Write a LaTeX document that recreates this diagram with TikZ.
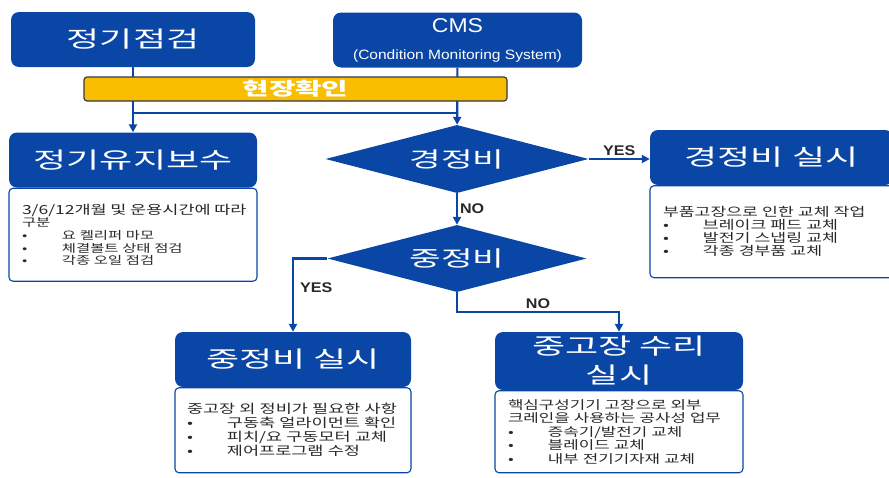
\documentclass[tikz,border=0pt]{standalone}
\usepackage{fontspec}
\setmainfont{Liberation Sans}
\newfontfamily\kr[FakeStretch=1.4]{Noto Sans CJK KR}
\newfontfamily\krh[FakeStretch=1.6]{Noto Sans CJK KR}
\newfontfamily\lat[FakeStretch=1.15]{Liberation Sans}
\usepackage{tikz}
\usetikzlibrary{shapes.geometric, arrows.meta, positioning}
\definecolor{kblue}{RGB}{10,70,165}
\definecolor{kyellow}{RGB}{250,190,0}
\definecolor{kframe}{RGB}{55,55,75}
\definecolor{ktext}{RGB}{40,40,40}
\newcommand{\bitem}[1]{\makebox[40pt][l]{\textbullet}#1}

\begin{document}
\begin{tikzpicture}[x=1pt, y=-1pt,
  every node/.style={font=\kr},
  head/.style={rectangle, rounded corners=8pt, fill=kblue, text=white,
               font=\krh\fontsize{22.5}{29}\selectfont, minimum height=55pt,
               align=center, inner sep=0pt},
  dec/.style={diamond, aspect=3.85, fill=kblue, text=white,
              font=\krh\fontsize{21.5}{26}\selectfont, inner sep=0pt},
  body/.style={rectangle, rounded corners=4pt, draw=kblue, line width=1.1pt,
               fill=white, text=ktext, align=left, inner xsep=13pt,
               inner ysep=0pt, anchor=north},
  bar/.style={rectangle, rounded corners=3pt, draw=kframe, line width=1.2pt,
              fill=kyellow, text=white, font=\krh\bfseries\fontsize{18}{20}\selectfont,
              minimum width=423pt, minimum height=24pt, inner sep=0pt},
  line/.style={draw=kblue, line width=2.2pt},
  arrow/.style={line, -{Triangle[length=8pt,width=8pt]}},
  lbl/.style={font=\lat\bfseries\fontsize{14}{16}\selectfont, text=ktext, inner sep=2pt},
]
\useasboundingbox (0,0) rectangle (889,477);

% ── Top: sources ──
\node[head, minimum width=244pt] (jg) at (133,39.5) {정기점검};
\node[head, minimum width=249pt, font=\lat\fontsize{20}{22}\selectfont] (cms) at (457.5,40)
  {CMS\\[5pt]{\fontsize{13.5}{15}\selectfont (Condition Monitoring System)}};

% ── Left: regular maintenance ──
\node[head, minimum width=248pt] (jy) at (133,160) {정기유지보수};
\node[body, below=0pt of jy, text width=222pt, minimum height=93pt,
      font=\kr\fontsize{11}{12.7}\selectfont] (jyb)
  {\mbox{\fontsize{12.5}{12.7}\selectfont 3/6/12개월 및 운용시간에 따라}\\구분\\\bitem{요 켈리퍼 마모}\\\bitem{체결볼트 상태 점검}\\\bitem{각종 오일 점검}};

% ── Decisions ──
\node[dec, minimum width=263pt, minimum height=68pt] (d1) at (457,159) {경정비};
\node[dec, minimum width=259pt, minimum height=67pt] (d2) at (457,258.5) {중정비};

% ── Right: light repair ──
\node[head, minimum width=243pt] (kj) at (771.5,157.5) {경정비 실시};
\node[body, below=0pt of kj, text width=217pt, minimum height=92pt,
      font=\kr\fontsize{12.3}{13}\selectfont] (kjb)
  {부품고장으로 인한 교체 작업\\\bitem{브레이크 패드 교체}\\\bitem{발전기 스냅링 교체}\\\bitem{각종 경부품 교체}};

% ── Bottom: medium repair ──
\node[head, minimum width=236pt] (jj) at (293,359.5) {중정비 실시};
\node[body, below=0pt of jj, inner xsep=12pt, text width=212pt, minimum height=85pt,
      font=\kr\fontsize{12.5}{14}\selectfont] (jjb)
  {중고장 외 정비가 필요한 사항\\\bitem{구동축 얼라이먼트 확인}\\\bitem{피치/요 구동모터 교체}\\\bitem{제어프로그램 수정}};

% ── Bottom: major repair ──
\node[head, minimum width=248pt, minimum height=58pt] (jr) at (619,361) {중고장 수리\\실시};
\node[body, below=0pt of jr, text width=222pt, minimum height=82pt,
      font=\kr\fontsize{12}{13.5}\selectfont] (jrb)
  {핵심구성기기 고장으로 외부\\크레인을 사용하는 공사성 업무\\\bitem{증속기/발전기 교체}\\\bitem{블레이드 교체}\\\bitem{내부 전기기자재 교체}};

% ── Connectors ──
\coordinate (hl) at (0,113);
\coordinate (nb) at (0,312);
\draw[arrow] (jg) -- (jy);
\draw[arrow] (cms) -- (d1);
\draw[line] (jg |- hl) -- (cms |- hl);
\draw[arrow] (d1) -- node[lbl, above] {YES} (d1 -| kj.west);
\draw[arrow] (d1) -- node[lbl, right] {NO} (d2);
\draw[arrow] (d2) -| node[lbl, pos=0.7, right=4pt] {YES} (jj);
\draw[arrow] (d2) -- (d2 |- nb) -| node[lbl, pos=0.25, above] {NO} (jr);

% ── Site check bar ──
\node[bar] (bar) at (295.5,89) {현장확인};

\end{tikzpicture}
\end{document}
